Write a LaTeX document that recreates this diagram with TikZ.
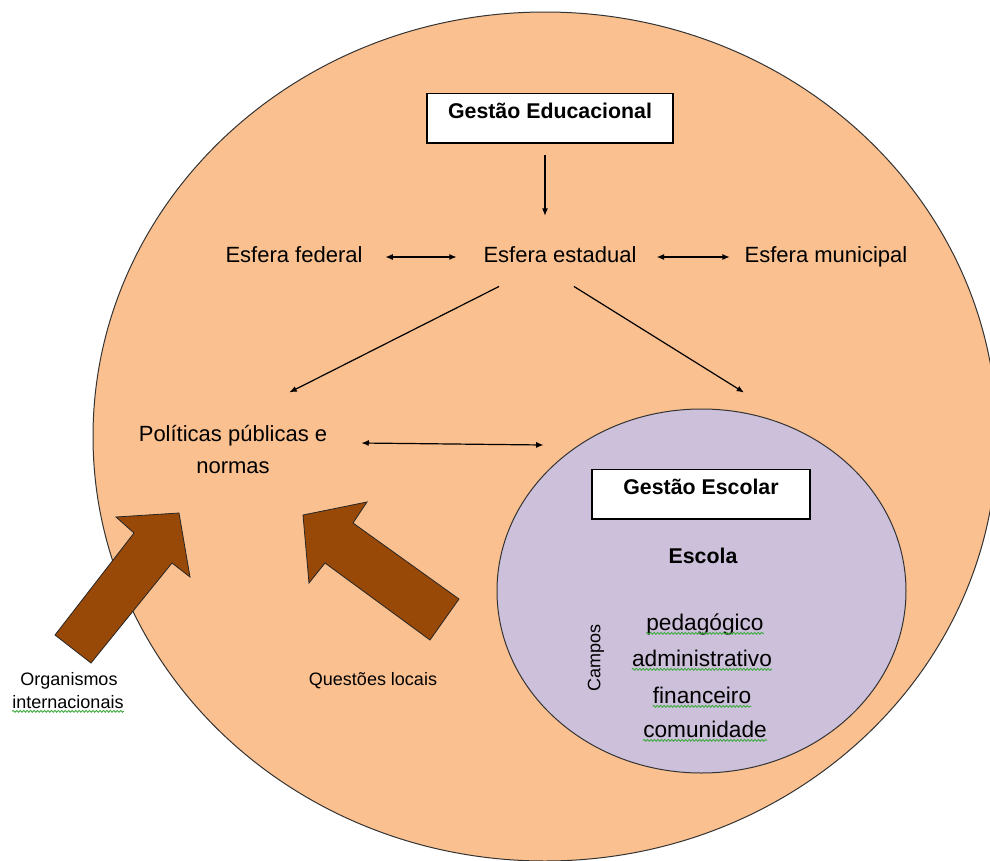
\documentclass[tikz,border=0pt]{standalone}
\usepackage{fontspec}
\setmainfont{Liberation Sans}
\usetikzlibrary{shapes.geometric,arrows.meta,decorations.pathmorphing}
\definecolor{peach}{HTML}{FAC090}
\definecolor{lilac}{HTML}{CCC0DA}
\definecolor{brownarrow}{HTML}{984807}
\definecolor{spellgreen}{RGB}{60,170,60}

\begin{document}
\begin{tikzpicture}[
    x=0.75pt, y=-0.75pt,
    txt/.style={inner sep=0pt, anchor=base, font=\fontsize{16.5}{23.5}\selectfont},
    small/.style={inner sep=0pt, anchor=base, font=\fontsize{13.5}{17}\selectfont},
    campo/.style={inner sep=0pt, anchor=base, font=\fontsize{17}{20}\selectfont},
    titlebox/.style={draw, fill=white, line width=1.1pt, anchor=north, inner xsep=0pt, inner ysep=6.75pt,
      text height=11.5pt, text depth=12pt, font=\bfseries\fontsize{16}{19}\selectfont},
    zone/.style={ellipse, draw=black!80, line width=0.75pt, inner sep=0pt},
    arr/.style={-{Latex[length=5.5pt,width=4.5pt]}, line width=0.9pt},
    arrs/.style={{Latex[length=5.5pt,width=4.5pt]}-{Latex[length=5.5pt,width=4.5pt]}, line width=0.9pt},
    block/.style={draw=black!85, line width=0.6pt, fill=brownarrow, line join=miter},
    spell/.style={draw=spellgreen, line width=0.65pt, decorate, decoration={snake, amplitude=0.7pt, segment length=2.6pt}}
  ]
    \useasboundingbox (0,0) rectangle (990,861);
    \clip (0,0) rectangle (990,861);

    \node[zone, fill=peach, minimum width=678pt, minimum height=636.75pt] (gestao) at (545,436.5) {};
    \node[zone, fill=lilac, minimum width=306.75pt, minimum height=273pt] (escolar) at (701.5,591) {};

    \node[titlebox, minimum width=184.5pt] (educ) at (550,93) {Gestão Educacional};
    \node[txt] (federal) at (294,262) {Esfera federal};
    \node[txt] (estadual) at (560,262) {Esfera estadual};
    \node[txt] (municipal) at (826,262) {Esfera municipal};
    \node[txt, anchor=center, align=center] (politicas) at (233,449.5) {Políticas públicas e\\normas};
    \node[titlebox, minimum width=163.5pt] (escolartit) at (701,469) {Gestão Escolar};
    \node[txt, font=\bfseries\fontsize{16}{19}\selectfont] (escola) at (703,563) {Escola};
    \node[small, anchor=center, rotate=90] (campos) at (596,658) {Campos};
    \node[campo] (ped) at (705,630) {pedagógico};
    \node[campo] (adm) at (702,666) {administrativo};
    \node[campo] (fin) at (702,703) {financeiro};
    \node[campo] (com) at (705,737) {comunidade};
    \node[small] (organismos) at (69,685) {Organismos};
    \node[small] (internac) at (68,708) {internacionais};
    \node[small] (locais) at (373,685) {Questões locais};

    \coordinate (educfoot) at ([xshift=-3.75pt]educ.south);
    \draw[arr, shorten <=8.25pt, shorten >=22.5pt] (educfoot) -- (educfoot |- estadual.north);
    \draw[arrs, shorten <=17pt, shorten >=20pt] ([yshift=3.75pt]federal.base east) -- ([yshift=3.75pt]estadual.base west);
    \draw[arrs, shorten <=15pt, shorten >=11pt] ([yshift=3.75pt]estadual.base east) -- ([yshift=3.75pt]municipal.base west);
    \draw[arr] ([shift={(-61,24)}]estadual.south) -- ([shift={(-38,-33)}]politicas.north east);
    \draw[arr] ([shift={(14,24)}]estadual.south) -- ([shift={(42.5,-16)}]escolar.north);
    \draw[arrs] ([shift={(34,-6.5)}]politicas.east) -- ([shift={(47,-146)}]escolar.west);

    \draw[block] (55,635) -- (134,533) -- (116,517) -- (179,513) -- (190,577) -- (172,563) -- (91,663) -- cycle;
    \draw[block] (303,515) -- (367,502) -- (353,523) -- (459,599) -- (430,640) -- (325,563) -- (309,583) -- cycle;

    \draw[spell] ([yshift=-2.5pt]ped.base west) -- ([yshift=-2.5pt]ped.base east);
    \draw[spell] ([yshift=-2.5pt]adm.base west) -- ([yshift=-2.5pt]adm.base east);
    \draw[spell] ([yshift=-2.5pt]fin.base west) -- ([yshift=-2.5pt]fin.base east);
    \draw[spell] ([yshift=-2.5pt]com.base west) -- ([yshift=-2.5pt]com.base east);
    \draw[spell] ([yshift=-2.5pt]internac.base west) -- ([yshift=-2.5pt]internac.base east);
  \end{tikzpicture}
\end{document}
